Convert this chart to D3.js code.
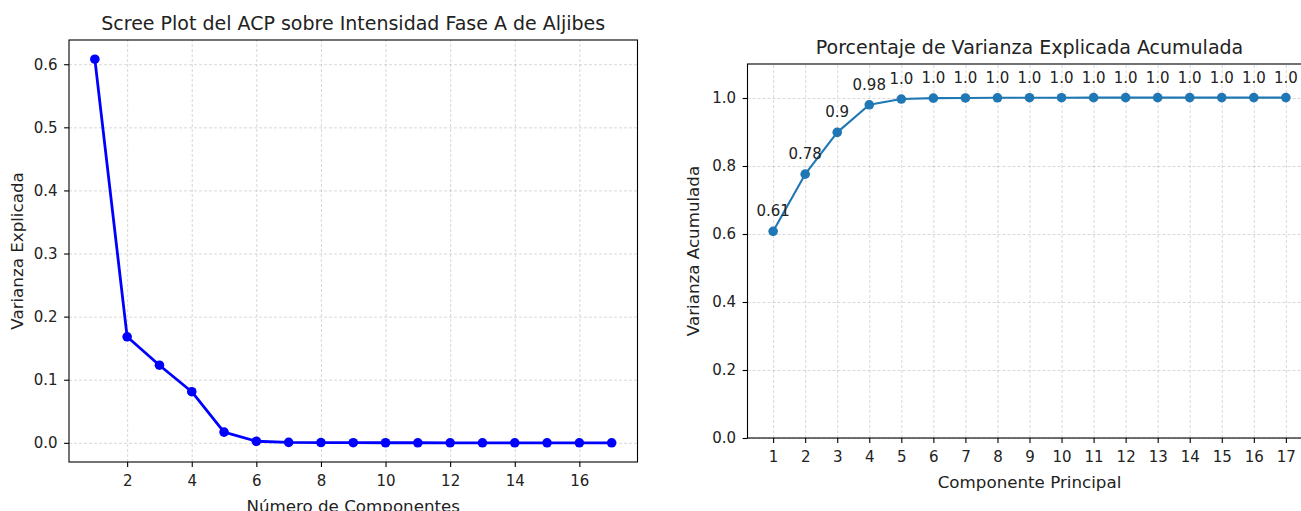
<!DOCTYPE html>
<html>
<head>
<meta charset="utf-8">
<script src="https://cdn.jsdelivr.net/npm/d3@7"></script>
<style>
  html, body { margin: 0; padding: 0; background: #fff; overflow: hidden; }
  svg { display: block; font-family: "DejaVu Sans", sans-serif; }
  .grid line { stroke: #b0b0b0; stroke-opacity: 0.7; stroke-width: 0.7; stroke-dasharray: 3,2; }
  .grid path { display: none; }
  .axis text { font-size: 15px; fill: #222; font-family: "DejaVu Sans", sans-serif; }
  .axis line, .axis path { stroke: #000; stroke-width: 1.1; }
</style>
</head>
<body>
<div id="chart"></div>
<script>
// explained variance ratio per component
const components = d3.range(1, 18);
const explained = [0.608, 0.168, 0.123, 0.081, 0.017, 0.0025, 0.0007, 0.0004, 0.0002, 0.0001,
                   0.00008, 0.00006, 0.00004, 0.00003, 0.00002, 0.00001, 0.00001];
const cumulative = Array.from(d3.cumsum(explained));

const leftXTicks = [2, 4, 6, 8, 10, 12, 14, 16];
const leftYTicks = [0.0, 0.1, 0.2, 0.3, 0.4, 0.5, 0.6];
const rightYTicks = [0.0, 0.2, 0.4, 0.6, 0.8, 1.0];

const W = 1301, H = 511;
const svg = d3.select('#chart').append('svg').attr('width', W).attr('height', H);

// python-ish str(round(v, 2))
const pyRound = v => {
  const r = Math.round(v * 100) / 100;
  return Number.isInteger(r) ? r.toFixed(1) : String(r);
};

const drawPanel = (opt) => {
  const { left, right, top, bottom, x, y, xTicks, yTicks } = opt;
  const g = svg.append('g');

  // grid
  g.append('g').attr('class', 'grid')
    .attr('transform', `translate(0,${bottom})`)
    .call(d3.axisBottom(x).tickValues(xTicks).tickSize(-(bottom - top)).tickFormat(''));
  g.append('g').attr('class', 'grid')
    .attr('transform', `translate(${left},0)`)
    .call(d3.axisLeft(y).tickValues(yTicks).tickSize(-(right - left)).tickFormat(''));

  // axes
  const xa = g.append('g').attr('class', 'axis')
    .attr('transform', `translate(0,${bottom})`)
    .call(d3.axisBottom(x).tickValues(xTicks).tickSize(4.9).tickPadding(8.5).tickSizeOuter(0).tickFormat(d3.format('d')));
  xa.select('.domain').remove();
  const ya = g.append('g').attr('class', 'axis')
    .attr('transform', `translate(${left},0)`)
    .call(d3.axisLeft(y).tickValues(yTicks).tickSize(4.9).tickPadding(6.5).tickSizeOuter(0).tickFormat(d3.format('.1f')));
  ya.select('.domain').remove();

  // spines
  g.append('rect')
    .attr('x', left).attr('y', top)
    .attr('width', right - left).attr('height', bottom - top)
    .attr('fill', 'none').attr('stroke', '#000').attr('stroke-width', 1.1);

  // title and labels
  g.append('text').attr('x', (left + right) / 2).attr('y', top - 10.5)
    .attr('text-anchor', 'middle').attr('font-size', 19).attr('fill', '#222')
    .text(opt.title);
  g.append('text').attr('x', (left + right) / 2).attr('y', opt.xLabelY)
    .attr('text-anchor', 'middle').attr('font-size', 16.7).attr('fill', '#222')
    .text(opt.xLabel);
  g.append('text')
    .attr('transform', `translate(${opt.yLabelX},${(top + bottom) / 2}) rotate(-90)`)
    .attr('text-anchor', 'middle').attr('font-size', 16.7).attr('fill', '#222')
    .text(opt.yLabel);
  return g;
};

// ---- left panel: scree plot
const lx = d3.scaleLinear().domain([0.2, 17.8]).range([69, 637.5]);
const eMin = d3.min(explained), eMax = d3.max(explained), eR = eMax - eMin;
const ly = d3.scaleLinear().domain([eMin - 0.05 * eR, eMax + 0.05 * eR]).range([462, 40]);

const gl = drawPanel({
  left: 69, right: 637.5, top: 40, bottom: 462, x: lx, y: ly,
  xTicks: leftXTicks, yTicks: leftYTicks,
  title: 'Scree Plot del ACP sobre Intensidad Fase A de Aljibes',
  xLabel: 'Número de Componentes', xLabelY: 512,
  yLabel: 'Varianza Explicada', yLabelX: 23
});

gl.append('path')
  .datum(explained)
  .attr('fill', 'none').attr('stroke', '#0000ff').attr('stroke-width', 2.8)
  .attr('stroke-linejoin', 'round')
  .attr('d', d3.line().x((d, i) => lx(components[i])).y(d => ly(d)));
gl.selectAll('circle.pt').data(explained).enter().append('circle')
  .attr('class', 'pt')
  .attr('cx', (d, i) => lx(components[i])).attr('cy', d => ly(d))
  .attr('r', 4.8).attr('fill', '#0000ff');

// ---- right panel: cumulative variance
const rx = d3.scaleLinear().domain([0.2, 17.8]).range([747.5, 1311.5]);
const ry = d3.scaleLinear().domain([0, 1.1]).range([438, 64]);

const gr = drawPanel({
  left: 747.5, right: 1311.5, top: 64, bottom: 438, x: rx, y: ry,
  xTicks: components, yTicks: rightYTicks,
  title: 'Porcentaje de Varianza Explicada Acumulada',
  xLabelY: 488, xLabel: 'Componente Principal',
  yLabel: 'Varianza Acumulada', yLabelX: 699
});

gr.append('path')
  .datum(cumulative)
  .attr('fill', 'none').attr('stroke', '#1f77b4').attr('stroke-width', 2.1)
  .attr('stroke-linejoin', 'round')
  .attr('d', d3.line().x((d, i) => rx(components[i])).y(d => ry(d)));
gr.selectAll('circle.pt').data(cumulative).enter().append('circle')
  .attr('class', 'pt')
  .attr('cx', (d, i) => rx(components[i])).attr('cy', d => ry(d))
  .attr('r', 4.8).attr('fill', '#1f77b4');
gr.selectAll('text.ann').data(cumulative).enter().append('text')
  .attr('class', 'ann')
  .attr('x', (d, i) => rx(components[i])).attr('y', d => ry(d) - 15)
  .attr('text-anchor', 'middle').attr('font-size', 15).attr('fill', '#222')
  .text(d => pyRound(d));
</script>
</body>
</html>
